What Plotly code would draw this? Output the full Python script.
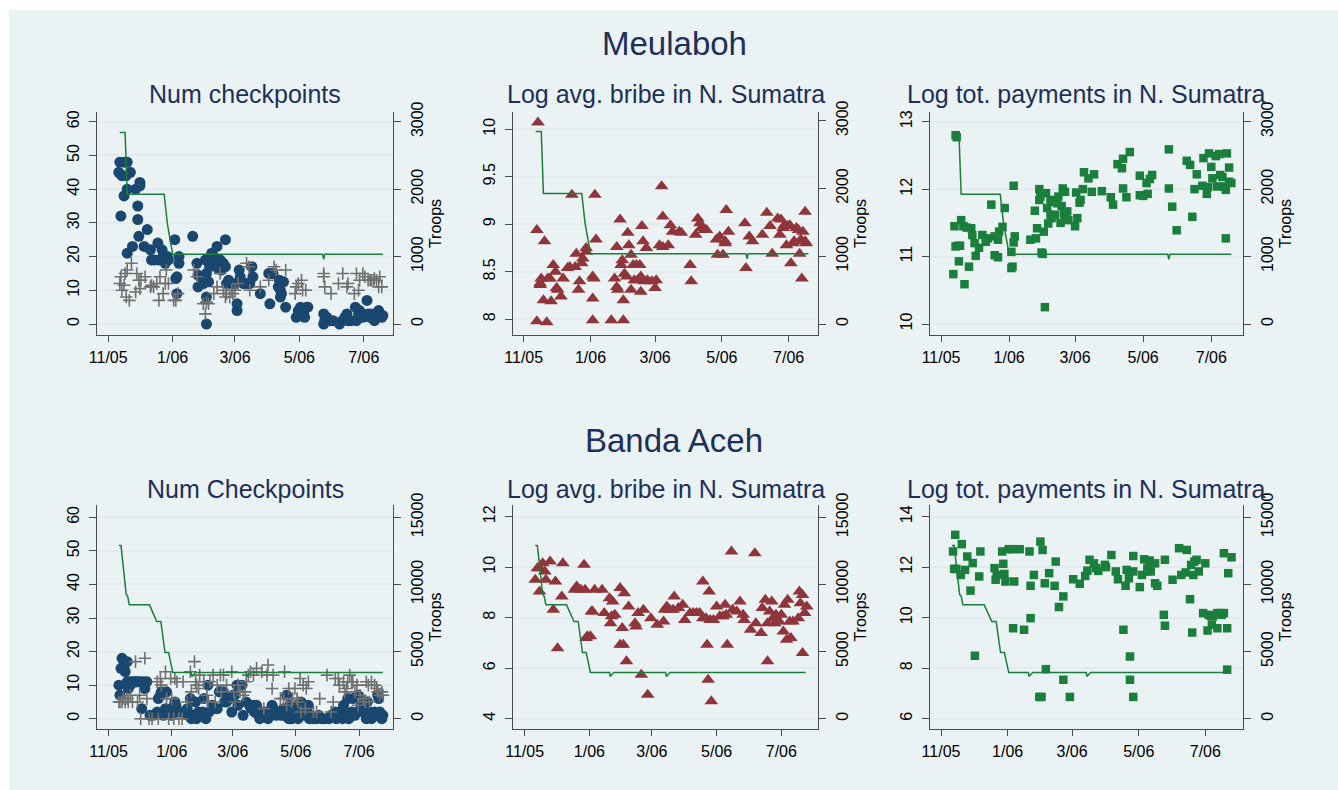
import plotly.graph_objects as go
import pandas as pd

BASE = pd.Timestamp("2005-11-01")

# ---------------- DATA (days since 2005-11-01, values) ----------------
# Meulaboh: troops
top_troop_day = [11, 16, 18, 53, 56, 59, 61, 203, 204, 205, 260]
top_troop_val = [2840, 2840, 1925, 1925, 1490, 1196, 1035, 1035, 960, 1035, 1035]

# Banda Aceh: troops
bot_troop_day = [10, 12, 17, 18.5, 20, 39.5, 46.5, 50.5, 54.5, 58, 62, 80, 80.5, 84, 133, 133.5, 137, 265]
bot_troop_val = [12890, 12890, 9270, 9100, 8480, 8480, 7240, 7240, 4930, 4930, 3450, 3450, 3150, 3450, 3450, 3150, 3450, 3450]

# Meulaboh: number of checkpoints (circles)
m_ck_day = [10, 11, 15, 18, 13, 17, 21, 12, 15, 18, 18, 23, 26, 28, 28, 29, 30, 30, 34, 37, 40, 41, 44, 47, 48,
            51, 52, 54, 56, 57, 63, 64, 65, 67, 67, 65, 80, 84, 85, 85, 89, 90, 92, 93, 93, 93, 95, 96, 98, 100,
            101, 103, 104, 106, 107, 111, 109, 111, 112, 114, 117, 120, 122, 122, 124, 125, 128, 131, 134, 136,
            137, 144, 152, 153, 155, 156, 161, 162, 163, 163, 164, 166, 168, 178, 180, 182, 183, 185, 186, 188,
            189, 204, 204, 205, 207, 210, 213, 219, 222, 224, 226, 227, 230, 234, 235, 237, 238, 240, 241, 245,
            246, 248, 249, 251, 252, 254, 256, 257, 259, 260]
m_ck_val = [45, 48, 48, 48, 44, 44, 45, 32, 38, 40, 21, 23, 40, 31, 35, 26, 41, 42, 23, 28, 22, 19, 19, 24, 19,
            22, 20, 18, 20, 19, 25, 13.5, 14, 20, 18, 9, 26, 18, 14.5, 11, 14, 12, 19, 15, 8, 0, 12.5, 17, 21, 20,
            19, 23, 16.5, 19, 16, 25, 18, 17, 12, 13, 12, 12, 6, 4, 16, 14, 12, 12, 12, 17,
            14, 9, 15, 6, 15, 15, 11, 13, 10, 8, 9, 12.5, 5, 2, 4, 5, 3, 3, 2, 5,
            5, 3, 0, 1, 2, 1, 1, 0, 1, 2, 3, 1, 1, 5, 1, 3, 4, 3, 2, 7,
            3, 2, 3, 2, 1, 3, 4, 3, 2, 2.5]

# Meulaboh: second checkpoint series (plus markers)
m_pl_day = [11, 12, 13, 15, 16, 18, 17, 20, 22, 26, 27, 29, 30, 31, 35, 40, 41, 43, 46, 48, 49, 52, 54, 55, 57,
            62, 64, 66, 81, 84, 90, 92, 93, 95, 100, 103, 106, 109, 111, 112, 115, 117, 118, 120, 123, 131, 133,
            134, 144, 152, 157, 159, 168, 177, 178, 180, 183, 184, 187, 204, 204, 205, 211, 218, 222, 226, 227,
            233, 235, 237, 238, 241, 243, 246, 248, 249, 251, 252, 254, 256, 257, 259]
m_pl_val = [12, 14, 10, 11.5, 15, 16, 8, 7, 18, 9.5, 15, 13, 10.5, 13, 14, 11, 11.5, 11, 12, 7, 14, 9, 12, 16, 12,
            7, 7, 9, 16, 14, 6, 3, 6.5, 6, 9, 11, 15, 10, 8, 9, 8, 10, 9, 10, 12, 18, 17,
            10, 11, 13, 17, 16, 16, 9, 11, 12, 13, 10, 10, 14, 15, 11, 9, 12, 15, 11, 12,
            9, 15, 10, 13, 15, 14, 13, 13, 13, 13, 13.5, 13, 11, 14, 11]

# Meulaboh: log avg. bribe (triangles)
m_br_day = [13, 12, 12, 15, 15, 16, 18, 19, 21, 22, 24, 25, 27, 29, 30, 31, 34, 36, 40, 42, 44, 47, 48, 50, 51,
            53, 54, 57, 57, 63, 63, 64, 65, 63, 66, 80, 83, 85, 85, 86, 88, 89, 90, 91, 91, 92, 94, 95, 96, 98,
            98, 100, 101, 103, 104, 106, 107, 107, 108, 109, 110, 112, 113, 117, 120, 121, 124, 126, 127, 127,
            132, 134, 136, 142, 144, 152, 153, 157, 159, 161, 162, 165, 167, 176, 177, 179, 182, 184, 184, 185,
            187, 202, 203, 206, 209, 218, 222, 225, 227, 232, 234, 235, 237, 238, 240, 241, 243, 244, 246, 247,
            249, 251, 252, 253, 254, 255, 257, 257, 258]
m_br_val = [10.07, 8.94, 7.98, 8.36, 8.38, 8.43, 8.20, 8.82, 7.97, 8.43, 8.43, 8.19, 8.57, 8.50, 8.33, 8.31,
            8.24, 8.43, 8.54, 8.55, 9.31, 8.55, 8.69, 8.31, 8.40, 8.59, 8.64, 8.71, 8.75, 7.99, 8.45, 8.43, 9.31,
            8.22, 8.84, 7.99, 8.43, 8.76, 8.34, 8.31, 9.05, 8.57, 8.62, 8.20, 7.99, 8.48, 8.45, 8.91, 8.78, 8.68,
            8.31, 8.57, 8.41, 8.57, 8.41, 8.57, 8.29, 8.45, 8.98, 8.82, 8.40, 8.75, 8.41, 8.40, 8.33, 8.41, 8.78,
            9.40, 9.08, 8.76, 8.78, 8.99, 8.92, 8.92, 8.91, 8.57, 8.40, 8.89, 9.06, 9.01, 8.96, 8.94, 8.94, 8.84,
            8.68, 8.87, 8.68, 8.82, 8.80, 9.15, 8.92, 9.01, 8.54, 8.87, 8.82, 8.89, 9.12, 8.98, 8.69, 9.06, 8.89,
            9.05, 8.96, 8.99, 8.78, 8.98, 8.99, 8.59, 8.80, 8.82, 8.96, 8.94, 8.69, 8.84, 8.43, 8.92, 9.13, 8.82,
            8.80]

# Meulaboh: log total payments (squares)
m_pay_day = [11, 12, 13, 14, 13, 15, 17, 16, 18, 20, 21, 23, 25, 27, 28, 30, 31, 34, 37, 40, 42, 45, 48, 48, 51,
             51, 52, 55, 57, 63, 64, 63, 65, 66, 65, 80, 84, 85, 86, 88, 88, 89, 90, 91, 92, 93, 94, 95, 96, 98,
             98, 99, 101, 102, 104, 105, 107, 108, 109, 110, 111, 111, 113, 114, 120, 121, 122, 124, 125, 127,
             128, 132, 137, 135, 144, 152, 154, 158, 162, 163, 163, 166, 169, 178, 178, 181, 184, 185, 187, 189,
             204, 204, 207, 211, 220, 223, 225, 227, 229, 234, 235, 238, 239, 240, 242, 243, 246, 247, 249, 250,
             252, 253, 255, 255, 256, 258, 258, 260]
m_pay_val = [10.74, 11.45, 12.80, 12.77, 11.15, 11.16, 11.16, 10.93, 11.54, 11.45, 10.59, 11.43, 10.85, 11.42,
             11.32, 11.20, 11.01, 11.13, 11.32, 11.22, 11.27, 11.77, 11.02, 11.30, 11.25, 10.99, 11.37, 11.44,
             11.72, 10.83, 10.85, 11.07, 11.21, 11.30, 12.05, 11.25, 11.68, 11.27, 11.42, 11.84, 12.00, 11.89,
             11.06, 11.04, 11.37, 10.25, 11.94, 11.72, 11.49, 11.62, 11.84, 11.57, 11.81, 11.62, 11.79, 11.89,
             11.50, 11.75, 12.01, 11.64, 11.96, 11.57, 11.67, 11.54, 11.45, 11.95, 11.57, 11.80, 11.84, 12.00,
             12.25, 12.16, 12.22, 11.96, 11.97, 11.88, 11.77, 12.37, 12.31, 12.45, 12.01, 11.88, 12.55, 12.20,
             11.91, 11.90, 12.09, 11.93, 12.15, 12.21, 12.59, 12.01, 11.74, 11.39, 12.42, 12.36, 11.59, 12.00,
             12.22, 12.05, 12.46, 11.93, 12.03, 12.53, 12.33, 12.16, 12.49, 12.04, 12.52, 12.21, 12.18, 12.04,
             11.27, 11.99, 12.53, 12.11, 12.32, 12.09]

# Banda Aceh: number of checkpoints (circles)
b_ck_day = [10, 11, 12, 13, 15, 16, 18, 18, 19, 20, 21, 23, 24, 26, 27, 29, 31, 32, 34, 35, 37, 40, 43, 47, 48,
            50, 51, 53, 55, 56, 58, 60, 61, 63, 64, 65, 66, 69, 72, 74, 76, 77, 79, 80, 82, 84, 85, 87, 88, 91,
            92, 94, 96, 97, 100, 101, 105, 107, 108, 111, 112, 114, 116, 117, 119, 120, 122, 124, 125, 129, 130,
            133, 136, 138, 140, 141, 143, 145, 146, 150, 151, 153, 154, 156, 158, 159, 161, 162, 166, 167, 169,
            170, 172, 174, 175, 175, 177, 178, 180, 182, 183, 185, 186, 188, 190, 191, 193, 194, 195, 198, 201,
            203, 206, 209, 213, 215, 219, 220, 222, 223, 226, 227, 228, 230, 231, 232, 235, 236, 238, 240, 241,
            243, 244, 246, 248, 249, 250, 251, 252, 254, 256, 257, 259, 260, 261, 262, 264, 265]
b_ck_val = [10, 7, 15, 18, 15, 14, 11, 17, 9, 11, 10, 11, 11, 11, 11, 11, 11, 3, 11, 9, 11, 1, 1, 2, 6,
            7, 8, 1, 3, 8, 2, 3, 1, 2, 5, 4, 2, 2, 2, 2, 3, 1, 6, 0, 1, 5, 0, 2, 1, 2,
            6, 0, 10, 2, 4, 3, 3, 8, 8, 8, 5, 5, 6, 6, 2, 7, 7, 10, 4, 10, 1,
            5, 4, 3, 4, 2, 4, 1, 0, 2, 1, 2, 0, 1, 4, 3, 2, 1, 2, 1, 3,
            1, 7, 0, 2, 4, 0, 1, 2, 4, 0, 3, 5, 4, 1, 2, 4, 0, 1, 0, 0,
            1, 0, 0, 0, 1, 2, 0, 1, 2, 0, 4, 2, 1, 6, 0, 2, 6, 1, 2, 7,
            6, 4, 2, 5, 0, 5, 1, 2, 0, 1, 2, 1, 7, 6, 2, 0, 1]

# Banda Aceh: second checkpoint series (plus markers)
b_pl_day = [10, 11, 13, 14, 16, 18, 19, 21, 23, 26, 28, 30, 31, 35, 37, 39, 42, 47, 48, 50, 51, 55, 56, 58, 60,
            61, 63, 64, 66, 68, 71, 72, 76, 79, 80, 83, 84, 85, 87, 88, 92, 95, 96, 98, 101, 103, 105, 108, 109,
            111, 114, 119, 121, 122, 125, 127, 130, 132, 133, 135, 137, 140, 143, 148, 150, 153, 154, 158, 159,
            166, 169, 170, 172, 174, 177, 178, 180, 182, 183, 185, 186, 188, 190, 191, 193, 198, 201, 204, 211,
            215, 217, 219, 222, 223, 227, 228, 230, 231, 233, 235, 236, 238, 240, 241, 243, 246, 248, 249, 251,
            252, 254, 257, 259, 260, 262, 264, 265]
b_pl_val = [5, 5, 5, 6, 5, 6, 5, 7, 5, 17, 5, 7, 0, 18, 6, 0, 0, 11, 0, 12, 10, 14, 6, 0, 12,
            6, 0, 12, 11, 0, 0, 11, 5, 14, 8, 17, 11, 10, 9, 13, 11, 7, 5, 11, 13, 5, 10, 13, 8,
            13, 10, 14, 8, 5, 10, 8, 7, 8, 11, 13, 14, 13, 15, 14, 3, 13, 16, 9, 13,
            6, 6, 14, 4, 9, 5, 6, 9, 6, 5, 12, 2, 10, 3, 9, 11, 2, 2, 6, 13,
            2, 5, 12, 12, 10, 11, 8, 9, 11, 13, 11, 11, 8, 10, 4, 7, 6, 5, 11, 10,
            5, 11, 10, 9, 8, 7, 8, 7]

# Banda Aceh: log avg. bribe (triangles)
b_br_day = [10, 12, 14, 14, 17, 19, 20, 24, 27, 29, 31, 35, 36, 47, 49, 50, 53, 56, 57, 58, 59, 62, 63, 64, 66,
            73, 75, 80, 81, 82, 83, 85, 90, 90, 92, 93, 94, 96, 98, 104, 105, 107, 110, 112, 116, 119, 125, 131,
            132, 134, 137, 140, 141, 145, 149, 151, 156, 159, 162, 165, 168, 168, 171, 172, 173, 174, 175, 176,
            178, 181, 184, 187, 189, 190, 191, 195, 196, 200, 203, 206, 207, 213, 217, 218, 223, 224, 227, 229,
            229, 231, 233, 234, 236, 237, 240, 242, 244, 245, 247, 248, 250, 251, 253, 258, 259, 260, 262, 262,
            264, 266]
b_br_val = [9.50, 9.96, 9.96, 9.03, 10.15, 9.83, 9.50, 10.22, 8.31, 9.43, 6.79, 8.84, 10.15, 9.10, 9.23, 9.17,
            9.10, 10.09, 9.10, 7.19, 7.26, 7.26, 8.24, 8.24, 9.10, 9.10, 8.18, 8.77, 7.78, 8.05, 8.64, 8.11, 9.17,
            6.93, 7.59, 6.93, 8.97, 6.27, 8.44, 7.78, 7.65, 8.18, 5.74, 8.31, 4.95, 7.98, 7.72, 7.85, 8.31, 8.44,
            8.31, 8.31, 8.84, 8.38, 8.51, 7.91, 8.18, 8.18, 8.18, 8.18, 9.43, 7.98, 7.98, 6.93, 5.54, 9.03, 7.91,
            4.69, 7.91, 8.44, 8.05, 8.05, 8.51, 8.11, 6.93, 10.62, 8.31, 8.24, 8.64, 8.11, 7.91, 7.52, 10.55,
            7.78, 7.39, 8.38, 8.71, 6.27, 7.78, 8.24, 8.64, 7.98, 7.78, 8.11, 7.85, 8.11, 7.45, 8.51, 7.12, 8.71,
            7.85, 7.19, 7.85, 7.98, 9.03, 8.57, 8.90, 6.60, 8.18, 8.44]

# Banda Aceh: log total payments (squares)
b_pay_day = [11, 12, 13, 14, 18, 19, 22, 24, 27, 29, 31, 35, 36, 49, 50, 51, 56, 57, 58, 59, 62, 65, 66, 67, 72,
             76, 81, 82, 82, 85, 90, 92, 91, 93, 95, 96, 99, 104, 105, 108, 112, 112, 118, 121, 127, 132, 134,
             136, 140, 142, 144, 150, 151, 156, 160, 162, 167, 169, 170, 172, 173, 173, 176, 176, 176, 182, 184,
             186, 189, 189, 191, 192, 196, 196, 198, 204, 205, 205, 212, 218, 220, 224, 225, 228, 229, 230, 231,
             232, 234, 236, 240, 242, 244, 245, 247, 248, 249, 253, 253, 256, 257, 259, 259, 262, 262, 263, 266]
b_pay_val = [12.62, 11.93, 13.28, 11.93, 11.69, 12.91, 11.89, 12.42, 11.07, 12.16, 8.49, 11.63, 12.62, 11.96,
             11.50, 11.69, 12.62, 12.13, 11.73, 11.43, 12.71, 12.71, 9.58, 11.43, 12.71, 9.52, 12.62, 9.98, 11.26,
             11.69, 6.86, 6.86, 13.01, 12.68, 11.36, 7.96, 11.76, 11.26, 12.22, 10.42, 10.84, 7.54, 6.86, 11.52,
             11.34, 11.65, 11.86, 12.29, 12.15, 11.96, 11.85, 12.09, 12.00, 12.48, 11.83, 11.52, 9.52, 11.26,
             11.89, 11.56, 8.46, 7.54, 12.44, 11.83, 6.86, 11.21, 11.69, 12.31, 11.83, 11.96, 12.26, 11.83, 12.15,
             11.36, 11.26, 10.11, 12.29, 9.68, 11.50, 12.75, 11.69, 11.79, 12.68, 10.73, 12.09, 9.41, 11.69,
             12.22, 12.29, 11.83, 10.18, 12.15, 9.49, 10.11, 10.07, 9.72, 10.05, 10.18, 9.58, 10.18, 10.11,
             10.18, 12.55, 7.94, 9.58, 11.76, 12.39]

# Tick labels
date_ticks = ["2005-11-01", "2006-01-01", "2006-03-01", "2006-05-01", "2006-07-01"]
date_labels = ["11/05", "1/06", "3/06", "5/06", "7/06"]
row_titles = ["Meulaboh", "Banda Aceh"]
panel_titles = ["Num checkpoints", "Log avg. bribe in N. Sumatra", "Log tot. payments in N. Sumatra",
                "Num Checkpoints", "Log avg. bribe in N. Sumatra", "Log tot. payments in N. Sumatra"]

# ---------------- STYLE ----------------
W, H = 1338, 790
BG = "#eaf2f3"
NAVY = "#1a476f"
MAROON = "#90353b"
GREEN = "#1a7f3c"
GRAY = "#707070"
TITLE_C = "#1e2f5a"
AXIS_C = "#4a4a4a"
FONT = "Liberation Sans, Arial, sans-serif"


def d(days):
    return [BASE + pd.Timedelta(days=float(x)) for x in days]


def ds(day):
    return (BASE + pd.Timedelta(days=float(day))).strftime("%Y-%m-%d %H:%M:%S")


def fx(px):
    return px / W


def fy(py):
    return 1 - py / H


panels = [
    dict(box=(97, 393, 112, 335), xr=(-10.6, 269.6), yl=(-3.26, 62.88), lt=[0, 10, 20, 30, 40, 50, 60],
         ltt=None, yr=(-163, 3144), rt=[0, 1000, 2000, 3000]),
    dict(box=(513, 818, 112, 335), xr=(-9.8, 268.8), yl=(7.835, 10.18), lt=[8, 8.5, 9, 9.5, 10],
         ltt=["8", "8.5", "9", "9.5", "10"], yr=(-162, 3128), rt=[0, 1000, 2000, 3000]),
    dict(box=(930, 1243, 112, 335), xr=(-9.9, 270.4), yl=(9.837, 13.144), lt=[10, 11, 12, 13],
         ltt=None, yr=(-163, 3144), rt=[0, 1000, 2000, 3000]),
    dict(box=(97, 393, 505, 729), xr=(-11.2, 274.8), yl=(-3.06, 63.66), lt=[0, 10, 20, 30, 40, 50, 60],
         ltt=None, yr=(-766, 15915), rt=[0, 5000, 10000, 15000]),
    dict(box=(513, 818, 505, 729), xr=(-11.0, 276.6), yl=(3.59, 12.46), lt=[4, 6, 8, 10, 12],
         ltt=None, yr=(-766, 15915), rt=[0, 5000, 10000, 15000]),
    dict(box=(930, 1243, 505, 729), xr=(-10.1, 276.5), yl=(5.59, 14.46), lt=[6, 8, 10, 12, 14],
         ltt=None, yr=(-766, 15915), rt=[0, 5000, 10000, 15000]),
]

fig = go.Figure()

tickfont = dict(family=FONT, size=16, color="#000000")

for i, p in enumerate(panels):
    n = i + 1
    x0, x1, y0, y1 = p["box"]
    sfx = "" if n == 1 else str(n)
    fig.layout["xaxis" + sfx] = dict(
        domain=[fx(x0), fx(x1)], anchor="y" + sfx, type="date",
        range=[ds(p["xr"][0]), ds(p["xr"][1])],
        tickmode="array", tickvals=date_ticks, ticktext=date_labels,
        ticks="outside", ticklen=6, tickcolor=AXIS_C, tickwidth=1,
        showline=True, linecolor=AXIS_C, linewidth=1.2, showgrid=False, zeroline=False,
        tickfont=tickfont, ticklabelstandoff=2, automargin=False,
    )
    fig.layout["yaxis" + sfx] = dict(
        domain=[fy(y1), fy(y0)], anchor="x" + sfx, range=list(p["yl"]),
        tickmode="array", tickvals=p["lt"], ticktext=p["ltt"] if p["ltt"] else [str(v) for v in p["lt"]],
        ticks="outside", ticklen=7, tickcolor=AXIS_C, tickangle=-90,
        showline=True, linecolor=AXIS_C, linewidth=1.2, showgrid=True, gridcolor="#e2ecef", gridwidth=1.6,
        zeroline=False, tickfont=tickfont, ticklabelstandoff=4, automargin=False,
    )
    fig.layout[f"yaxis{n + 6}"] = dict(
        overlaying="y" + sfx, anchor="x" + sfx, side="right",
        range=list(p["yr"]), tickmode="array", tickvals=p["rt"], ticktext=[str(v) for v in p["rt"]],
        ticks="outside", ticklen=7, tickcolor=AXIS_C, tickangle=-90,
        showline=True, linecolor=AXIS_C, linewidth=1.2, showgrid=False, zeroline=False,
        tickfont=tickfont, ticklabelstandoff=3, automargin=False,
        title=dict(text="Troops", font=dict(family=FONT, size=16, color="#000000"), standoff=4),
    )

    xr = "x" + sfx
    yr_ = "y" + sfx
    yr2 = f"y{n + 6}"

    if n in (1, 4):
        ckd, ckv, pld, plv = (m_ck_day, m_ck_val, m_pl_day, m_pl_val) if n == 1 else \
            (b_ck_day, b_ck_val, b_pl_day, b_pl_val)
        fig.add_trace(go.Scatter(x=d(ckd), y=ckv, mode="markers", xaxis=xr, yaxis=yr_,
                                 marker=dict(symbol="circle", size=11, color=NAVY, line=dict(width=0)),
                                 showlegend=False))
        fig.add_trace(go.Scatter(x=d(pld), y=plv, mode="markers", xaxis=xr, yaxis=yr_,
                                 marker=dict(symbol="cross-thin", size=9, color=GRAY,
                                             line=dict(width=1.6, color=GRAY)),
                                 showlegend=False))
    elif n in (2, 5):
        bd, bv = (m_br_day, m_br_val) if n == 2 else (b_br_day, b_br_val)
        fig.add_trace(go.Scatter(x=d(bd), y=bv, mode="markers", xaxis=xr, yaxis=yr_,
                                 marker=dict(symbol="triangle-up", size=12, color=MAROON, line=dict(width=0)),
                                 showlegend=False))
    else:
        pd_, pv = (m_pay_day, m_pay_val) if n == 3 else (b_pay_day, b_pay_val)
        fig.add_trace(go.Scatter(x=d(pd_), y=pv, mode="markers", xaxis=xr, yaxis=yr_,
                                 marker=dict(symbol="square", size=8.5, color=GREEN, line=dict(width=0)),
                                 showlegend=False))

    td, tv = (top_troop_day, top_troop_val) if n <= 3 else (bot_troop_day, bot_troop_val)
    fig.add_trace(go.Scatter(x=d(td), y=tv, mode="lines", xaxis=xr, yaxis=yr2,
                             line=dict(color=GREEN, width=1.5), showlegend=False))

    fig.add_annotation(text=panel_titles[i], xref="paper", yref="paper",
                       x=fx((x0 + x1) / 2), y=fy(94 if n <= 3 else 489), xanchor="center", yanchor="middle",
                       showarrow=False, font=dict(family=FONT, size=25, color=TITLE_C))

for t, yy in zip(row_titles, [44, 440]):
    fig.add_annotation(text=t, xref="paper", yref="paper", x=fx(674), y=fy(yy),
                       xanchor="center", yanchor="middle", showarrow=False,
                       font=dict(family=FONT, size=33, color=TITLE_C))

# light-blue graph region (white outer border)
fig.add_shape(type="rect", xref="paper", yref="paper", x0=fx(9), x1=1, y0=0, y1=fy(10),
              fillcolor=BG, line=dict(width=0), layer="below")

fig.update_layout(
    width=W, height=H, margin=dict(l=0, r=0, t=0, b=0, pad=0), autosize=False,
    paper_bgcolor="white", plot_bgcolor="white", showlegend=False,
    font=dict(family=FONT, color="#000000"),
)

fig.write_html("out.html", config={"displayModeBar": False, "responsive": False},
               post_script="document.body.style.margin='0';document.body.style.overflow='hidden';")
